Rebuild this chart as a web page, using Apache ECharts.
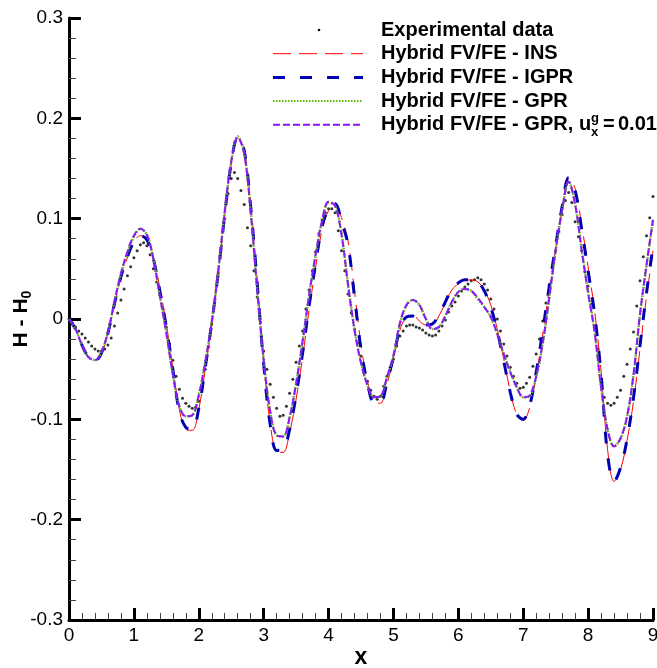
<!DOCTYPE html>
<html>
<head>
<meta charset="utf-8">
<script src="https://cdn.jsdelivr.net/npm/echarts@6/dist/echarts.min.js"></script>
<style>
html,body{margin:0;padding:0;background:#fff;}
#chart{width:657px;height:668px;}
</style>
</head>
<body>
<div id="chart"></div>
<script>
// ---------------- DATA ----------------
// Simulation curves sampled every SIM_STEP in x, starting at x = 0
const SIM_STEP = 0.1;
// Experimental data sampled every EXP_STEP in x, starting at x = 0
const EXP_STEP = 0.05;

const seriesNames = [
  'Experimental data',
  'Hybrid FV/FE - INS',
  'Hybrid FV/FE - IGPR',
  'Hybrid FV/FE - GPR',
  'Hybrid FV/FE - GPR, u = 0.01'
];

const expData = [
  0.000,-0.004,-0.008,-0.012,-0.015,-0.019,-0.023,-0.027,-0.030,-0.032,
  -0.032,-0.030,-0.026,-0.019,-0.007,0.006,0.019,0.030,0.043,0.052,
  0.061,0.068,0.074,0.076,0.073,0.064,0.050,0.037,0.024,0.010,
  -0.008,-0.025,-0.041,-0.057,-0.070,-0.079,-0.084,-0.087,-0.089,-0.088,
  -0.082,-0.068,-0.050,-0.028,-0.005,0.020,0.046,0.073,0.100,0.125,
  0.140,0.146,0.140,0.128,0.114,0.091,0.073,0.048,0.022,-0.003,
  -0.032,-0.050,-0.065,-0.078,-0.089,-0.097,-0.096,-0.087,-0.074,-0.060,
  -0.043,-0.027,-0.012,0.010,0.029,0.048,0.067,0.085,0.099,0.106,
  0.110,0.110,0.106,0.088,0.068,0.048,0.025,0.006,-0.010,-0.024,
  -0.037,-0.050,-0.062,-0.071,-0.077,-0.080,-0.077,-0.067,-0.057,-0.048,
  -0.040,-0.027,-0.017,-0.012,-0.007,-0.006,-0.006,-0.008,-0.009,-0.011,
  -0.014,-0.016,-0.017,-0.016,-0.012,-0.007,-0.001,0.007,0.013,0.017,
  0.023,0.028,0.032,0.035,0.038,0.039,0.041,0.039,0.035,0.029,
  0.020,0.010,0.000,-0.012,-0.025,-0.037,-0.048,-0.057,-0.064,-0.069,
  -0.068,-0.064,-0.058,-0.047,-0.035,-0.020,-0.002,0.016,0.034,0.051,
  0.068,0.087,0.104,0.118,0.126,0.116,0.097,0.082,0.068,0.047,
  0.033,0.015,-0.008,-0.030,-0.063,-0.078,-0.084,-0.086,-0.084,-0.078,
  -0.071,-0.057,-0.045,-0.030,-0.013,0.013,0.038,0.062,0.083,0.101,
  0.122
];

const insData = [
  0.000,-0.010,-0.026,-0.038,-0.042,-0.034,-0.014,0.014,0.041,0.061,
  0.077,0.083,0.080,0.062,0.031,-0.005,-0.048,-0.090,-0.110,-0.111,
  -0.090,-0.050,-0.006,0.045,0.103,0.154,0.180,0.169,0.115,0.040,
  -0.042,-0.104,-0.132,-0.133,-0.113,-0.080,-0.038,0.009,0.051,0.089,
  0.108,0.115,0.101,0.078,0.028,-0.026,-0.062,-0.083,-0.084,-0.065,
  -0.040,-0.011,0.002,0.004,-0.002,-0.006,-0.006,0.003,0.016,0.029,
  0.035,0.038,0.039,0.037,0.029,0.014,-0.010,-0.040,-0.072,-0.095,
  -0.101,-0.088,-0.056,-0.015,0.029,0.070,0.110,0.140,0.130,0.094,
  0.052,0.008,-0.052,-0.130,-0.162,-0.150,-0.121,-0.082,-0.030,0.022,
  0.068
];

const igprData = [
  0.000,-0.010,-0.026,-0.038,-0.042,-0.034,-0.014,0.015,0.042,0.062,
  0.077,0.083,0.079,0.060,0.028,-0.008,-0.050,-0.092,-0.108,-0.110,
  -0.089,-0.048,-0.004,0.046,0.104,0.155,0.181,0.168,0.112,0.036,
  -0.045,-0.105,-0.131,-0.130,-0.110,-0.076,-0.034,0.013,0.055,0.092,
  0.110,0.115,0.097,0.074,0.022,-0.030,-0.064,-0.083,-0.083,-0.063,
  -0.038,-0.010,0.002,0.003,-0.002,-0.006,-0.005,0.004,0.017,0.030,
  0.036,0.039,0.039,0.037,0.028,0.012,-0.012,-0.042,-0.073,-0.095,
  -0.100,-0.086,-0.053,-0.012,0.032,0.073,0.112,0.141,0.128,0.090,
  0.048,0.005,-0.055,-0.135,-0.162,-0.148,-0.120,-0.078,-0.026,0.026,
  0.072
];

const gprData = [
  0.000,-0.010,-0.026,-0.038,-0.041,-0.033,-0.013,0.017,0.045,0.066,
  0.082,0.090,0.084,0.060,0.023,-0.013,-0.055,-0.087,-0.097,-0.096,
  -0.076,-0.043,-0.003,0.048,0.107,0.156,0.182,0.166,0.108,0.030,
  -0.040,-0.092,-0.116,-0.117,-0.098,-0.065,-0.023,0.023,0.063,0.097,
  0.116,0.113,0.085,0.035,-0.010,-0.043,-0.066,-0.078,-0.077,-0.059,
  -0.037,-0.005,0.013,0.019,0.014,0.000,-0.010,-0.008,0.003,0.017,
  0.027,0.030,0.028,0.020,0.012,0.002,-0.015,-0.035,-0.052,-0.068,
  -0.078,-0.077,-0.058,-0.025,0.020,0.068,0.108,0.137,0.115,0.070,
  0.027,-0.012,-0.068,-0.110,-0.127,-0.119,-0.098,-0.056,0.004,0.053,
  0.098
];

const gpr001Data = [
  0.000,-0.010,-0.026,-0.038,-0.041,-0.033,-0.013,0.017,0.045,0.067,
  0.083,0.090,0.084,0.060,0.023,-0.014,-0.055,-0.087,-0.097,-0.096,
  -0.076,-0.043,-0.003,0.048,0.107,0.157,0.181,0.165,0.107,0.030,
  -0.041,-0.092,-0.116,-0.117,-0.098,-0.064,-0.022,0.024,0.064,0.098,
  0.117,0.113,0.084,0.034,-0.011,-0.044,-0.066,-0.078,-0.077,-0.058,
  -0.036,-0.004,0.014,0.019,0.014,0.000,-0.010,-0.008,0.003,0.017,
  0.027,0.030,0.028,0.021,0.012,0.002,-0.015,-0.035,-0.053,-0.068,
  -0.078,-0.076,-0.057,-0.024,0.021,0.069,0.109,0.137,0.114,0.069,
  0.026,-0.013,-0.068,-0.110,-0.127,-0.119,-0.097,-0.055,0.005,0.054,
  0.099
];

const xTicks = [0,1,2,3,4,5,6,7,8,9];
const yTicks = [-0.3,-0.2,-0.1,0,0.1,0.2,0.3];

// ---------------- STYLE ----------------
const FONT = '"Liberation Sans", Arial, Helvetica, sans-serif';
const colors = {
  exp: '#000000',
  ins: '#ff0000',
  igpr: '#0000b4',
  gpr: '#5cb800',
  gpr001: '#8c14ff'
};

function toPairs(arr, step) {
  return arr.map((v, i) => [+(i * step).toFixed(3), v]);
}

const chart = echarts.init(document.getElementById('chart'), null, {renderer: 'canvas'});

// Legend built from graphic elements
const legendX0 = 273, legendX1 = 363, legendTextX = 381, legendY0 = 30, legendDy = 23.7;
const legendFont = 'bold 20px ' + FONT;
const subFont = 'bold 13px ' + FONT;

const legendStyles = [
  null,
  {stroke: colors.ins, lineWidth: 1, lineDash: [18, 8]},
  {stroke: colors.igpr, lineWidth: 3, lineDash: [12, 15]},
  {stroke: colors.gpr, lineWidth: 2, lineDash: [1.5, 1.5]},
  {stroke: colors.gpr001, lineWidth: 2, lineDash: [7, 3]}
];

const graphics = [];
seriesNames.forEach((name, i) => {
  const y = legendY0 + i * legendDy;
  if (i === 0) {
    graphics.push({type: 'circle', shape: {cx: 319, cy: y, r: 1.3}, style: {fill: colors.exp}});
  } else {
    graphics.push({type: 'line', shape: {x1: legendX0, y1: y, x2: legendX1, y2: y},
      style: Object.assign({fill: null}, legendStyles[i])});
  }
  if (i < 4) {
    graphics.push({type: 'text', x: legendTextX, y: y,
      style: {text: name, font: legendFont, fill: '#000', verticalAlign: 'middle'}});
  } else {
    graphics.push({type: 'text', x: legendTextX, y: y,
      style: {text: 'Hybrid FV/FE - GPR,', font: legendFont, fill: '#000', verticalAlign: 'middle'}});
    graphics.push({type: 'text', x: 579, y: y,
      style: {text: 'u', font: legendFont, fill: '#000', verticalAlign: 'middle'}});
    graphics.push({type: 'text', x: 591, y: y - 6,
      style: {text: 'g', font: subFont, fill: '#000', verticalAlign: 'middle'}});
    graphics.push({type: 'text', x: 591, y: y + 8,
      style: {text: 'x', font: subFont, fill: '#000', verticalAlign: 'middle'}});
    graphics.push({type: 'text', x: 603, y: y,
      style: {text: '=', font: legendFont, fill: '#000', verticalAlign: 'middle'}});
    graphics.push({type: 'text', x: 618, y: y,
      style: {text: '0.01', font: legendFont, fill: '#000', verticalAlign: 'middle'}});
  }
});

const axisCommon = {
  axisLine: {show: true, onZero: false, lineStyle: {color: '#000', width: 3}},
  axisTick: {show: true, inside: true, length: 12, lineStyle: {color: '#000', width: 3}},
  minorTick: {show: true, splitNumber: 5, length: 7, lineStyle: {color: '#444', width: 1}},
  splitLine: {show: false},
  minorSplitLine: {show: false},
  nameMoveOverlap: false
};

const option = {
  animation: false,
  backgroundColor: '#fff',
  grid: {left: 69, right: 4, top: 18, bottom: 48, containLabel: false, outerBoundsMode: 'none'},
  xAxis: Object.assign({
    type: 'value', min: xTicks[0], max: xTicks[xTicks.length - 1], interval: 1,
    axisLabel: {color: '#000', fontSize: 19, fontFamily: FONT, margin: 6,
      formatter: v => String(v)},
    name: 'x', nameLocation: 'middle', nameGap: 26,
    nameTextStyle: {color: '#000', fontSize: 23, fontWeight: 'bold', fontFamily: FONT}
  }, axisCommon),
  yAxis: Object.assign({
    type: 'value', min: yTicks[0], max: yTicks[yTicks.length - 1], interval: 0.1,
    axisLabel: {color: '#000', fontSize: 19, fontFamily: FONT, margin: 6,
      formatter: v => (Math.abs(v) < 1e-9 ? '0' : v.toFixed(1))},
    name: '{a|H - H}{b|0}', nameLocation: 'middle', nameGap: 35, nameRotate: 90,
    nameTextStyle: {
      color: '#000', fontFamily: FONT,
      rich: {
        a: {fontSize: 21, fontWeight: 'bold', fontFamily: FONT, color: '#000', lineHeight: 26, verticalAlign: 'middle'},
        b: {fontSize: 14, fontWeight: 'bold', fontFamily: FONT, color: '#000', lineHeight: 14, verticalAlign: 'bottom'}
      }
    }
  }, axisCommon),
  graphic: graphics,
  series: [
    {
      name: seriesNames[1], type: 'line', data: toPairs(insData, SIM_STEP),
      showSymbol: false, symbol: 'none', smooth: 0.35,
      lineStyle: {color: colors.ins, width: 1, type: [18, 8]}
    },
    {
      name: seriesNames[2], type: 'line', data: toPairs(igprData, SIM_STEP),
      showSymbol: false, symbol: 'none', smooth: 0.35,
      lineStyle: {color: colors.igpr, width: 3, type: [12, 15]}
    },
    {
      name: seriesNames[3], type: 'line', data: toPairs(gprData, SIM_STEP),
      showSymbol: false, symbol: 'none', smooth: 0.35,
      lineStyle: {color: colors.gpr, width: 2.5, type: [1.5, 1.5]}
    },
    {
      name: seriesNames[4], type: 'line', data: toPairs(gpr001Data, SIM_STEP),
      showSymbol: false, symbol: 'none', smooth: 0.35,
      lineStyle: {color: colors.gpr001, width: 2, type: [7, 3]}
    },
    {
      name: seriesNames[0], type: 'scatter', data: toPairs(expData, EXP_STEP),
      symbol: 'circle', symbolSize: 3,
      itemStyle: {color: colors.exp}
    }
  ]
};

chart.setOption(option);
</script>
</body>
</html>
